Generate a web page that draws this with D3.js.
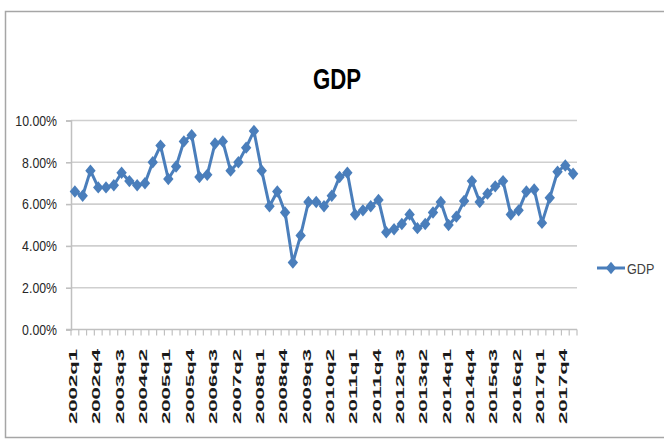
<!DOCTYPE html>
<html>
<head>
<meta charset="utf-8">
<script src="https://cdn.jsdelivr.net/npm/d3@7"></script>
<style>
  html, body { margin: 0; padding: 0; background: #ffffff; }
  svg { display: block; }
  text { font-family: "Liberation Sans", Arial, sans-serif; }
</style>
</head>
<body>
<svg id="chart" width="664" height="441"></svg>
<script>
// Quarterly GDP growth, 2002q1 – 2018q1 (percent)
const quarters = [
  "2002q1","2002q2","2002q3","2002q4","2003q1","2003q2","2003q3","2003q4",
  "2004q1","2004q2","2004q3","2004q4","2005q1","2005q2","2005q3","2005q4",
  "2006q1","2006q2","2006q3","2006q4","2007q1","2007q2","2007q3","2007q4",
  "2008q1","2008q2","2008q3","2008q4","2009q1","2009q2","2009q3","2009q4",
  "2010q1","2010q2","2010q3","2010q4","2011q1","2011q2","2011q3","2011q4",
  "2012q1","2012q2","2012q3","2012q4","2013q1","2013q2","2013q3","2013q4",
  "2014q1","2014q2","2014q3","2014q4","2015q1","2015q2","2015q3","2015q4",
  "2016q1","2016q2","2016q3","2016q4","2017q1","2017q2","2017q3","2017q4",
  "2018q1"
];
const gdp = [
  6.6, 6.4, 7.6, 6.8, 6.8, 6.9, 7.5, 7.1,
  6.9, 7.0, 8.0, 8.8, 7.2, 7.8, 9.0, 9.3,
  7.3, 7.4, 8.9, 9.0, 7.6, 8.0, 8.7, 9.5,
  7.6, 5.9, 6.6, 5.6, 3.2, 4.5, 6.1, 6.1,
  5.9, 6.4, 7.3, 7.5, 5.5, 5.7, 5.9, 6.2,
  4.65, 4.8, 5.05, 5.5, 4.85, 5.05, 5.6, 6.1,
  5.0, 5.4, 6.15, 7.1, 6.1, 6.5, 6.85, 7.1,
  5.5, 5.7, 6.6, 6.7, 5.1, 6.3, 7.55, 7.85,
  7.45
];
const xTickLabels = [
  "2002q1","2002q4","2003q3","2004q2","2005q1","2005q4","2006q3","2007q2",
  "2008q1","2008q4","2009q3","2010q2","2011q1","2011q4","2012q3","2013q2",
  "2014q1","2014q4","2015q3","2016q2","2017q1","2017q4"
];
const yTicks = [0, 2, 4, 6, 8, 10];
const seriesName = "GDP";
const chartTitle = "GDP";

const lineColor = "#4a7ebb";
const gridColor = "#cfcfcf";
const axisColor = "#c0c0c0";

const svg = d3.select("#chart");

// squeeze text horizontally to a narrow face
function squeeze(sel, factor) {
  sel.each(function () {
    const w = this.getComputedTextLength();
    d3.select(this).attr("textLength", w * factor).attr("lengthAdjust", "spacingAndGlyphs");
  });
}

// outer frame
svg.append("rect")
  .attr("x", 5.5).attr("y", 11.5)
  .attr("width", 700).attr("height", 426)
  .attr("fill", "#ffffff")
  .attr("stroke", "#a6a6a6").attr("stroke-width", 1.5);

const plot = { left: 71, right: 577, top: 120.5, bottom: 329.5 };

const x = d3.scaleBand().domain(quarters).range([plot.left, plot.right]).padding(0);
const y = d3.scaleLinear().domain([0, 10]).range([plot.bottom, plot.top]);
const cx = d => x(d) + x.bandwidth() / 2;

// title
svg.append("text")
  .attr("x", 337).attr("y", 89)
  .attr("text-anchor", "middle")
  .attr("font-size", 30).attr("font-weight", "bold")
  .attr("fill", "#000000")
  .text(chartTitle)
  .call(squeeze, 0.74);

// horizontal gridlines
svg.append("g")
  .selectAll("line")
  .data(yTicks.filter(v => v > 0))
  .join("line")
  .attr("x1", plot.left).attr("x2", plot.right)
  .attr("y1", d => y(d)).attr("y2", d => y(d))
  .attr("stroke", gridColor).attr("stroke-width", 1.6);

// y axis
const yAxis = svg.append("g")
  .attr("transform", `translate(${plot.left},0)`)
  .call(d3.axisLeft(y).tickValues(yTicks).tickSize(5).tickPadding(9)
    .tickFormat(v => v.toFixed(2) + "%"));
yAxis.select(".domain").attr("stroke", axisColor).attr("stroke-width", 1.5);
yAxis.selectAll(".tick line").attr("stroke", axisColor).attr("stroke-width", 1.6);
yAxis.selectAll(".tick text")
  .attr("font-size", 15).attr("fill", "#262626")
  .attr("font-family", "'Liberation Sans', Arial, sans-serif")
  .call(squeeze, 0.82);

// x axis baseline and tick marks at category boundaries
const xAxis = svg.append("g");
xAxis.append("line")
  .attr("x1", plot.left - 5).attr("x2", plot.right)
  .attr("y1", plot.bottom).attr("y2", plot.bottom)
  .attr("stroke", axisColor).attr("stroke-width", 1.6);
const boundaries = quarters.map(q => x(q)).concat([x(quarters[quarters.length - 1]) + x.bandwidth()]);
xAxis.selectAll("line.tk")
  .data(boundaries)
  .join("line")
  .attr("class", "tk")
  .attr("x1", d => d).attr("x2", d => d)
  .attr("y1", plot.bottom).attr("y2", plot.bottom + 6)
  .attr("stroke", axisColor).attr("stroke-width", 1.2);

// rotated category labels
xAxis.selectAll("text")
  .data(xTickLabels)
  .join("text")
  .attr("transform", d => `translate(${cx(d) - 2},349) rotate(-90)`)
  .attr("dy", "0.36em")
  .attr("text-anchor", "end")
  .attr("font-size", 11.5).attr("font-weight", "bold")
  .attr("fill", "#1a1a1a")
  .attr("textLength", 75).attr("lengthAdjust", "spacingAndGlyphs")
  .text(d => d);

// series line
const line = d3.line().x((d, i) => cx(quarters[i])).y(d => y(d));
svg.append("path")
  .datum(gdp)
  .attr("d", line)
  .attr("fill", "none")
  .attr("stroke", lineColor).attr("stroke-width", 3)
  .attr("stroke-linejoin", "round");

// diamond markers
const diamond = "M0,-6.2L5.2,0L0,6.2L-5.2,0Z";
svg.append("g")
  .selectAll("path")
  .data(gdp)
  .join("path")
  .attr("transform", (d, i) => `translate(${cx(quarters[i])},${y(d)})`)
  .attr("d", diamond)
  .attr("fill", lineColor);

// legend
const legend = svg.append("g").attr("transform", "translate(597,268)");
legend.append("line")
  .attr("x1", 0).attr("x2", 28).attr("y1", 0).attr("y2", 0)
  .attr("stroke", lineColor).attr("stroke-width", 3);
legend.append("path")
  .attr("transform", "translate(14,0)")
  .attr("d", diamond)
  .attr("fill", lineColor);
legend.append("text")
  .attr("x", 30).attr("y", 5.5)
  .attr("font-size", 15).attr("fill", "#404040")
  .text(seriesName)
  .call(squeeze, 0.84);
</script>
</body>
</html>
